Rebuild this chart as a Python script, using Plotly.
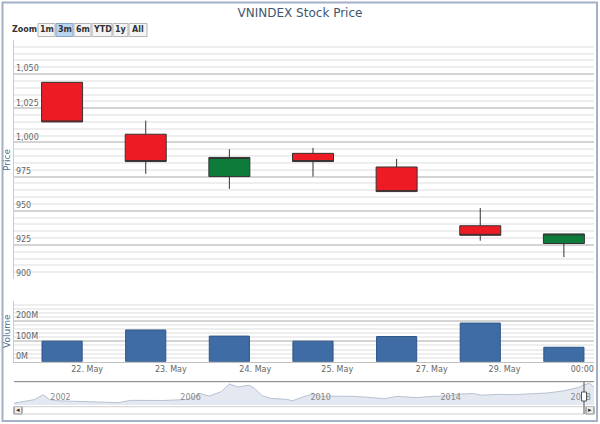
import plotly.graph_objects as go

# ---- data ----
day_labels = ["22. May", "23. May", "24. May", "25. May", "27. May", "29. May", "00:00"]
open_px = [1044, 1006, 975, 992, 982, 939, 926]
high_px = [1044, 1016, 995, 996, 988, 952, 933]
low_px = [1015, 977, 966, 975, 964, 928, 916]
close_px = [1015, 986, 989, 986, 964, 932, 933]
volume_m = [101, 156, 126, 101, 124, 190, 71]

price_ticks = [900, 925, 950, 975, 1000, 1025, 1050, 1075]
volume_ticks = [0, 100, 200, 300]

# navigator history (approx. VNINDEX silhouette)
nav_dates = ["2000-07-28", "2000-12-01", "2001-03-15", "2001-06-20", "2001-09-01", "2001-12-01",
             "2002-06-01", "2002-12-01", "2003-06-01", "2003-10-15", "2004-03-01", "2004-09-01",
             "2005-03-01", "2005-12-01", "2006-04-20", "2006-08-01", "2006-12-15", "2007-03-12",
             "2007-06-15", "2007-10-20", "2007-12-20", "2008-03-15", "2008-06-15", "2008-12-15",
             "2009-02-20", "2009-06-15", "2009-10-20", "2009-12-20", "2010-06-15", "2010-12-15",
             "2011-06-15", "2011-12-15", "2012-05-10", "2012-12-15", "2013-06-15", "2013-12-15",
             "2014-03-20", "2014-09-05", "2014-12-15", "2015-06-15", "2015-12-15", "2016-06-15",
             "2016-12-15", "2017-06-15", "2017-12-15", "2018-01-25", "2018-04-09", "2018-05-30"]
nav_values = [100, 200, 300, 570, 300, 235, 210, 183, 150, 130, 260, 240, 250, 307, 630, 500,
              750, 1170, 1000, 1100, 927, 520, 370, 315, 235, 450, 620, 495, 500, 485, 430, 350,
              480, 413, 480, 505, 600, 640, 545, 590, 580, 630, 665, 776, 985, 1100, 1204, 1000]
nav_tick_years = ["2002", "2006", "2010", "2014", "2018"]

zoom_buttons = ["1m", "3m", "6m", "YTD", "1y", "All"]
selected_button = "3m"

x_idx = list(range(len(open_px)))
label_pos = [0.30, 1.30, 2.31, 3.29, 4.42, 5.29, 6.22]

# pixel -> paper helpers (plot area 14..594 x 40..405)
def px(x):
    return (x - 14) / 580.0

def py(y):
    return (405 - y) / 365.0

FONT = "DejaVu Sans"
GRID = "#d4d4d4"
MINOR = "#eeeeee"

fig = go.Figure()

fig.add_trace(go.Candlestick(
    x=x_idx, open=open_px, high=high_px, low=low_px, close=close_px,
    increasing=dict(fillcolor="#0f7b3b", line=dict(color="#333333", width=1)),
    decreasing=dict(fillcolor="#ed1c24", line=dict(color="#333333", width=1)),
    whiskerwidth=0, xaxis="x", yaxis="y", hoverinfo="skip",
))

fig.add_trace(go.Bar(
    x=x_idx, y=[v * 1e6 for v in volume_m], width=0.48,
    marker=dict(color="#3f6ca5", line=dict(color="#2d5687", width=1)),
    xaxis="x2", yaxis="y2", hoverinfo="skip",
))

fig.add_trace(go.Scatter(
    x=nav_dates, y=nav_values, mode="lines", fill="tozeroy",
    line=dict(color="#b7c2d4", width=1), fillcolor="rgba(205,214,228,0.55)",
    xaxis="x3", yaxis="y3", hoverinfo="skip",
))

fig.update_layout(
    width=600, height=424,
    margin=dict(l=14, r=6, t=40, b=19, autoexpand=False),
    paper_bgcolor="white", plot_bgcolor="white",
    showlegend=False,
    font=dict(family=FONT, size=8, color="#666666"),
    title=dict(text="VNINDEX Stock Price", x=0.5, xanchor="center", y=1 - 13 / 424, yanchor="middle",
               font=dict(family=FONT, size=12, color="#3e576f")),
    xaxis=dict(domain=[0, 1], anchor="y", range=[-0.575, 6.36], showticklabels=False,
               showgrid=False, zeroline=False, rangeslider=dict(visible=False), fixedrange=True),
    yaxis=dict(domain=[py(279), 1], range=[900, 1075], tickvals=price_ticks,
               ticktext=[f"{v:,}" for v in price_ticks[:-1]] + [""],
               ticklabelposition="inside top", ticks="", showgrid=True, gridcolor=GRID, gridwidth=1.5,
               minor=dict(dtick=5, showgrid=True, gridcolor=MINOR),
               showline=True, linecolor="#cccccc", zeroline=False,
               tickfont=dict(size=8, color="#666666")),
    xaxis2=dict(domain=[0, 1], anchor="y2", matches="x", tickvals=label_pos, ticktext=day_labels,
                showgrid=False, zeroline=False, ticks="", showline=True, linecolor="#c0c0c0",
                tickfont=dict(size=8, color="#666666")),
    yaxis2=dict(domain=[py(361.7), py(300.7)], range=[0, 300e6],
                tickvals=[v * 1e6 for v in volume_ticks],
                ticktext=[f"{v}M" for v in volume_ticks[:-1]] + [""],
                ticklabelposition="inside top", ticks="", showgrid=True, gridcolor=GRID, gridwidth=1.5,
                minor=dict(dtick=20e6, showgrid=True, gridcolor=MINOR),
                showline=True, linecolor="#cccccc", zeroline=False,
                tickfont=dict(size=8, color="#666666")),
    xaxis3=dict(domain=[0, 1], anchor="y3", type="date", range=[nav_dates[0], nav_dates[-1]],
                tickvals=[f"{y}-01-01" for y in nav_tick_years], ticktext=nav_tick_years,
                ticklabelposition="inside", ticks="", showgrid=False, showline=False,
                zeroline=False, tickfont=dict(size=8, color="#888888")),
    yaxis3=dict(domain=[0, py(382)], range=[0, 1280], visible=False),
)

shapes = []
annots = []

def note(x, y, text, size=8, color="#333333", angle=0):
    annots.append(dict(xref="paper", yref="paper", x=px(x), y=py(y), text=text, showarrow=False,
                       xanchor="center", yanchor="middle", textangle=angle,
                       font=dict(size=size, color=color)))

def box(x0, x1, y0, y1, line, fill=None, width=1, layer="below"):
    d = dict(type="rect", xref="paper", yref="paper", x0=px(x0), x1=px(x1), y0=py(y1), y1=py(y0),
             line=dict(color=line, width=width), layer=layer)
    if fill:
        d["fillcolor"] = fill
    shapes.append(d)

def hline(y, color, x0=14, x1=594):
    shapes.append(dict(type="line", xref="paper", yref="paper", x0=px(x0), x1=px(x1), y0=py(y), y1=py(y),
                       line=dict(color=color, width=1)))

# outer chart frame
box(2.5, 597, 2.5, 421, "#a3b0c5", width=2, layer="above")

# navigator top line + scrollbar track
hline(381.7, "#7a7a7a")
hline(406.7, "#d0d0d0")
hline(414, "#d0d0d0")
for x0, x1, arrow in ((14, 22, "◂"), (586, 594, "▸")):
    box(x0, x1, 406.5, 414, "#666666", fill="#eeeeee")
    note((x0 + x1) / 2, 410.3, arrow, size=7)

# navigator handle
shapes.append(dict(type="line", xref="paper", yref="paper", x0=px(584), x1=px(584), y0=py(414), y1=py(382),
                   line=dict(color="#555555", width=1), layer="above"))
box(581.5, 586.5, 392, 401, "#555555", fill="white", layer="above")

# range selector look-alike
note(24, 30, "<b>Zoom</b>")
btn_edges = [(38, 55), (56, 73), (74, 91), (92, 112), (113, 128), (129, 147)]
for label, (x0, x1) in zip(zoom_buttons, btn_edges):
    sel = label == selected_button
    box(x0, x1, 23.5, 36.5, "#8aa6c4" if sel else "#b5b5b5", fill="#b9d6f0" if sel else "#f4f4f4")
    note((x0 + x1) / 2, 30, f"<b>{label}</b>")

# axis titles
note(7, 160, "Price", size=9, color="#4d6a8c", angle=-90)
note(7, 331, "Volume", size=9, color="#4d6a8c", angle=-90)

fig.update_layout(shapes=shapes, annotations=annots)

fig.write_html("out.html", config={"displayModeBar": False},
               post_script="document.body.style.margin='0';")
